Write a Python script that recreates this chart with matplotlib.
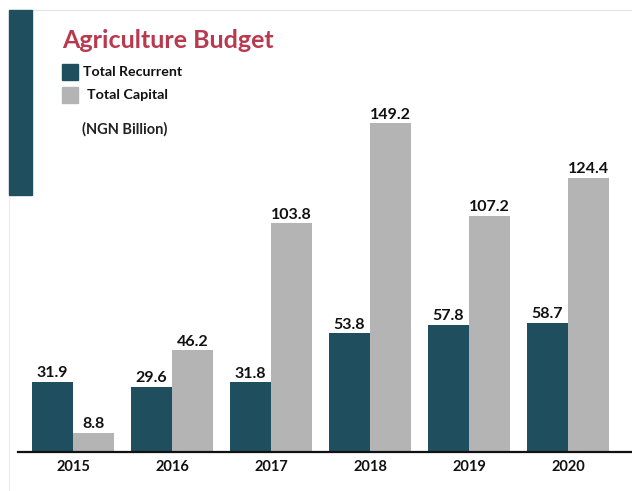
import matplotlib
matplotlib.use('Agg')
import matplotlib.pyplot as plt
from matplotlib.lines import Line2D
from matplotlib.patches import Rectangle
import numpy as np

years = ['2015', '2016', '2017', '2018', '2019', '2020']
recurrent = [31.9, 29.6, 31.8, 53.8, 57.8, 58.7]
capital = [8.8, 46.2, 103.8, 149.2, 107.2, 124.4]

DARK = '#1f4e5f'
GREY = '#b3b4b3'
RED = '#b83a4f'

plt.rcParams['font.family'] = ['Lato', 'DejaVu Sans']

fig = plt.figure(figsize=(6.32, 4.91), dpi=100)
ax = fig.add_axes([18 / 632, 39 / 491, 614 / 632, 442 / 491])

x = np.arange(len(years))
w = 0.414
ax.bar(x - w / 2, recurrent, w, color=DARK, zorder=2)
ax.bar(x + w / 2, capital, w, color=GREY, zorder=2)

for xi, v in zip(x, recurrent):
    ax.text(xi - w / 2, v + 0.6, f'{v}', ha='center', va='bottom',
            fontsize=11.5, fontweight='bold', color='#111111')
for xi, v in zip(x, capital):
    ax.text(xi + w / 2, v + 0.6, f'{v}', ha='center', va='bottom',
            fontsize=11.5, fontweight='bold', color='#111111')

ax.set_xlim(-0.556, 5.646)
ax.set_ylim(0, 200.4)
ax.set_xticks(x)
ax.set_xticklabels(years, fontsize=10.5, fontweight='bold', color='#111111')
ax.tick_params(axis='x', length=0, pad=6)
ax.set_yticks([])
for s in ['top', 'right', 'left']:
    ax.spines[s].set_visible(False)
ax.spines['bottom'].set_linewidth(1.6)
ax.spines['bottom'].set_color('#111111')

# frame decoration: side block and thin rules
fig.patches.append(Rectangle((9 / 632, 1 - 195 / 491), 23 / 632, 185 / 491,
                             transform=fig.transFigure, color=DARK, zorder=3))
fig.lines.append(Line2D([32 / 632, 1], [1 - 10 / 491] * 2, transform=fig.transFigure,
                        color='#e3e3e3', lw=0.8))
fig.lines.append(Line2D([9 / 632] * 2, [0, 1 - 195 / 491], transform=fig.transFigure,
                        color='#ececec', lw=0.8))

fig.text(62 / 632, 1 - 40 / 491, 'Agriculture Budget', fontsize=18, fontweight='bold',
         color=RED, va='center', ha='left')

fig.patches.append(Rectangle((62 / 632, 1 - 80 / 491), 16 / 632, 16 / 491,
                             transform=fig.transFigure, color=DARK))
fig.patches.append(Rectangle((62 / 632, 1 - 103 / 491), 16 / 632, 16 / 491,
                             transform=fig.transFigure, color=GREY))
fig.text(83 / 632, 1 - 72 / 491, 'Total Recurrent', fontsize=10.2, fontweight='bold',
         color='#111111', va='center')
fig.text(87 / 632, 1 - 95 / 491, 'Total Capital', fontsize=10.3, fontweight='bold',
         color='#111111', va='center')
fig.text(82 / 632, 1 - 129 / 491, '(NGN Billion)', fontsize=10.5, fontweight='bold',
         color='#222222', va='center')

fig.savefig('out.png', dpi=100)
